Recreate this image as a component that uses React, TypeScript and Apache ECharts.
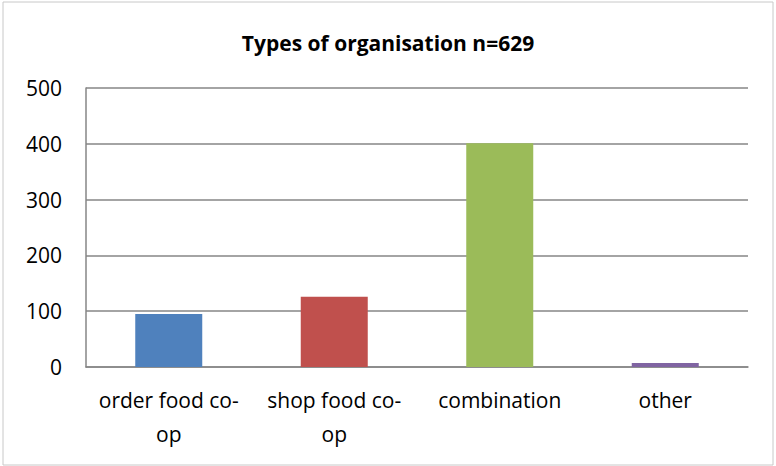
import React, { useEffect, useRef } from "react";
import * as echarts from "echarts";

const categories = ["order food co-op", "shop food co-op", "combination", "other"];
const counts = [95, 126, 401, 7];
const barColors = ["#4F81BD", "#C0504D", "#9BBB59", "#8064A2"];
const yTicks = { min: 0, max: 500, interval: 100 };
const titleText = "Types of organisation n=629";

export default function App() {
  const ref = useRef<HTMLDivElement>(null);
  useEffect(() => {
    document.body.style.margin = "0";
    const chart = echarts.init(ref.current!, null, { renderer: "svg" });
    chart.setOption({
      animation: false,
      backgroundColor: "#ffffff",
      title: {
        text: titleText,
        left: "center",
        top: 27,
        textStyle: {
          fontFamily: "Open Sans",
          fontWeight: "bold",
          fontSize: 21,
          color: "#000",
        },
      },
      graphic: [
        {
          type: "rect",
          shape: { x: 3, y: 2, width: 770, height: 463 },
          style: { fill: "none", stroke: "#c8c8c8", lineWidth: 1 },
          silent: true,
        },
      ],
      grid: { left: 86, right: 28, top: 88, bottom: 99 },
      xAxis: {
        type: "category",
        data: categories,
        axisLine: { lineStyle: { color: "#868686", width: 1.5 } },
        axisTick: { show: false },
        axisLabel: {
          fontFamily: "Open Sans",
          fontSize: 21,
          color: "#000",
          margin: 16,
          lineHeight: 34,
          interval: 0,
          formatter: (v: string) => v.replace("co-op", "co-\nop"),
        },
      },
      yAxis: {
        type: "value",
        min: yTicks.min,
        max: yTicks.max,
        interval: yTicks.interval,
        axisLine: { show: true, lineStyle: { color: "#868686", width: 1.5 } },
        axisTick: { show: false },
        splitLine: { lineStyle: { color: "#868686", width: 1.5 } },
        axisLabel: {
          fontFamily: "Open Sans",
          fontSize: 21,
          color: "#000",
          margin: 24,
        },
      },
      series: [
        {
          type: "bar",
          data: counts.map((v, i) => ({ value: v, itemStyle: { color: barColors[i] } })),
          barWidth: 67,
        },
      ],
    });
    return () => chart.dispose();
  }, []);
  return <div ref={ref} style={{ width: 776, height: 466 }} />;
}
